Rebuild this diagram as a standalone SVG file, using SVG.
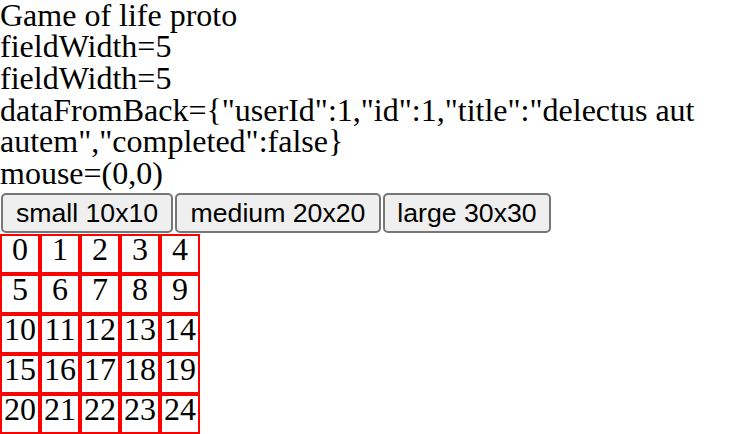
<svg xmlns="http://www.w3.org/2000/svg" width="750" height="434" viewBox="0 0 750 434">
<style>
.t{font-family:"Liberation Serif","Times New Roman",serif;font-size:32px;fill:#000}
.btn rect{fill:#efefef;stroke:#767676;stroke-width:2}
.btn text{font-family:"Liberation Sans",Arial,sans-serif;font-size:26.67px;fill:#000;text-anchor:middle}
.cell rect{fill:#fff;stroke:#ff0000;stroke-width:2}
.cell text{font-family:"Liberation Serif","Times New Roman",serif;font-size:32px;fill:#000;text-anchor:middle}
</style>
<rect width="750" height="434" fill="#fff"/>
<g id="header">
<text class="t" x="0" y="25.5">Game of life proto</text>
<text class="t" x="0" y="57.2">fieldWidth=5</text>
<text class="t" x="0" y="89">fieldWidth=5</text>
<text class="t" x="0" y="120.7">dataFromBack={"userId":1,"id":1,"title":"delectus aut</text>
<text class="t" x="0" y="152.4">autem","completed":false}</text>
<text class="t" x="0" y="184">mouse=(0,0)</text>
</g>
<g id="btn-small" class="btn"><rect x="2" y="194" width="170" height="38" rx="4"/><text x="87" y="222">small 10x10</text></g>
<g id="btn-medium" class="btn"><rect x="176" y="194" width="204" height="38" rx="4"/><text x="278" y="222">medium 20x20</text></g>
<g id="btn-large" class="btn"><rect x="384" y="194" width="166" height="38" rx="4"/><text x="467" y="222">large 30x30</text></g>
<g id="grid">
<g id="c0" class="cell"><rect x="1" y="235" width="38" height="38"/><text x="20" y="259.5">0</text></g>
<g id="c1" class="cell"><rect x="41" y="235" width="38" height="38"/><text x="60" y="259.5">1</text></g>
<g id="c2" class="cell"><rect x="81" y="235" width="38" height="38"/><text x="100" y="259.5">2</text></g>
<g id="c3" class="cell"><rect x="121" y="235" width="38" height="38"/><text x="140" y="259.5">3</text></g>
<g id="c4" class="cell"><rect x="161" y="235" width="38" height="38"/><text x="180" y="259.5">4</text></g>
<g id="c5" class="cell"><rect x="1" y="275" width="38" height="38"/><text x="20" y="299.5">5</text></g>
<g id="c6" class="cell"><rect x="41" y="275" width="38" height="38"/><text x="60" y="299.5">6</text></g>
<g id="c7" class="cell"><rect x="81" y="275" width="38" height="38"/><text x="100" y="299.5">7</text></g>
<g id="c8" class="cell"><rect x="121" y="275" width="38" height="38"/><text x="140" y="299.5">8</text></g>
<g id="c9" class="cell"><rect x="161" y="275" width="38" height="38"/><text x="180" y="299.5">9</text></g>
<g id="c10" class="cell"><rect x="1" y="315" width="38" height="38"/><text x="20" y="339.5">10</text></g>
<g id="c11" class="cell"><rect x="41" y="315" width="38" height="38"/><text x="60" y="339.5">11</text></g>
<g id="c12" class="cell"><rect x="81" y="315" width="38" height="38"/><text x="100" y="339.5">12</text></g>
<g id="c13" class="cell"><rect x="121" y="315" width="38" height="38"/><text x="140" y="339.5">13</text></g>
<g id="c14" class="cell"><rect x="161" y="315" width="38" height="38"/><text x="180" y="339.5">14</text></g>
<g id="c15" class="cell"><rect x="1" y="355" width="38" height="38"/><text x="20" y="379.5">15</text></g>
<g id="c16" class="cell"><rect x="41" y="355" width="38" height="38"/><text x="60" y="379.5">16</text></g>
<g id="c17" class="cell"><rect x="81" y="355" width="38" height="38"/><text x="100" y="379.5">17</text></g>
<g id="c18" class="cell"><rect x="121" y="355" width="38" height="38"/><text x="140" y="379.5">18</text></g>
<g id="c19" class="cell"><rect x="161" y="355" width="38" height="38"/><text x="180" y="379.5">19</text></g>
<g id="c20" class="cell"><rect x="1" y="395" width="38" height="38"/><text x="20" y="419.5">20</text></g>
<g id="c21" class="cell"><rect x="41" y="395" width="38" height="38"/><text x="60" y="419.5">21</text></g>
<g id="c22" class="cell"><rect x="81" y="395" width="38" height="38"/><text x="100" y="419.5">22</text></g>
<g id="c23" class="cell"><rect x="121" y="395" width="38" height="38"/><text x="140" y="419.5">23</text></g>
<g id="c24" class="cell"><rect x="161" y="395" width="38" height="38"/><text x="180" y="419.5">24</text></g>
</g>
</svg>
